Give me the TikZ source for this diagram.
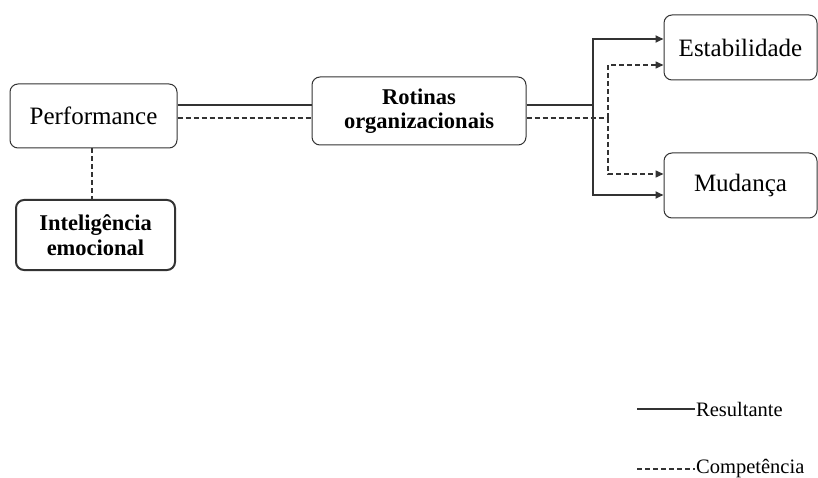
\documentclass[tikz,border=0pt]{standalone}
\usepackage{fontspec}
\setmainfont{Liberation Serif}
\usetikzlibrary{arrows.meta}
\tikzset{x=1pt,y=-1pt}
\tikzset{
  box/.style={draw=black!80, line width=1pt, rounded corners=8pt, align=center, inner sep=2pt},
  res/.style={draw=black!80, line width=2pt},
  comp/.style={draw=black!80, line width=1.5pt, dash pattern=on 5pt off 3pt},
  tip/.style={-{Triangle[length=8pt,width=7pt]}}
}

\begin{document}
\begin{tikzpicture}
\useasboundingbox (0,0) rectangle (818,478);
    % boxes
    \node[box, minimum width=167, minimum height=64,
      font=\fontsize{25}{28}\selectfont] (perf) at (93.5,116) {Performance};
    \node[box, line width=2pt, minimum width=159, minimum height=70,
      font=\fontsize{22.5}{24.5}\selectfont\bfseries] (intel) at (95.5,235)
      {Inteligência\\emocional};
    \node[box, minimum width=214, minimum height=68,
      font=\fontsize{22.5}{24}\selectfont\bfseries] (rot) at (419,111)
      {Rotinas\\organizacionais};
    \node[box, minimum width=153, minimum height=65,
      font=\fontsize{25}{28}\selectfont] (est) at (740.5,47.5) {Estabilidade};
    \node[box, minimum width=153, minimum height=65,
      font=\fontsize{25}{28}\selectfont] (mud) at (740.5,185.5) {Mudança};
    % junctions
    \coordinate (sj) at (593,105);
    \coordinate (dj) at (608,118);
    % links
    \draw[comp] (perf.south -| 92,0) -- (intel.north -| 92,0);
    \draw[res] (perf.east |- sj) -- (rot.west |- sj);
    \draw[comp] (perf.east |- dj) -- (rot.west |- dj);
    \draw[res] (rot.east |- sj) -- (sj);
    \draw[comp] (rot.east |- dj) -- (dj);
    \draw[res,tip] (sj) |- ([yshift=8.5pt]est.west);
    \draw[res,tip] (sj) |- ([yshift=-9.5pt]mud.west);
    \draw[comp,tip] (dj) |- ([yshift=-17.5pt]est.west);
    \draw[comp,tip] (dj) |- ([yshift=11.5pt]mud.west);
    % legend
    \coordinate (l1) at (637,409);
    \coordinate (l2) at (637,469);
    \node[right, inner sep=1pt, font=\fontsize{20.5}{23}\selectfont] (lres) at (695,409) {Resultante};
    \node[right, inner sep=1pt, font=\fontsize{20.5}{23}\selectfont] (lcomp) at (695,469) {Competência};
    \draw[res] (l1) -- (lres.west);
    \draw[comp] (l2) -- (lcomp.west);
\end{tikzpicture}
\end{document}
